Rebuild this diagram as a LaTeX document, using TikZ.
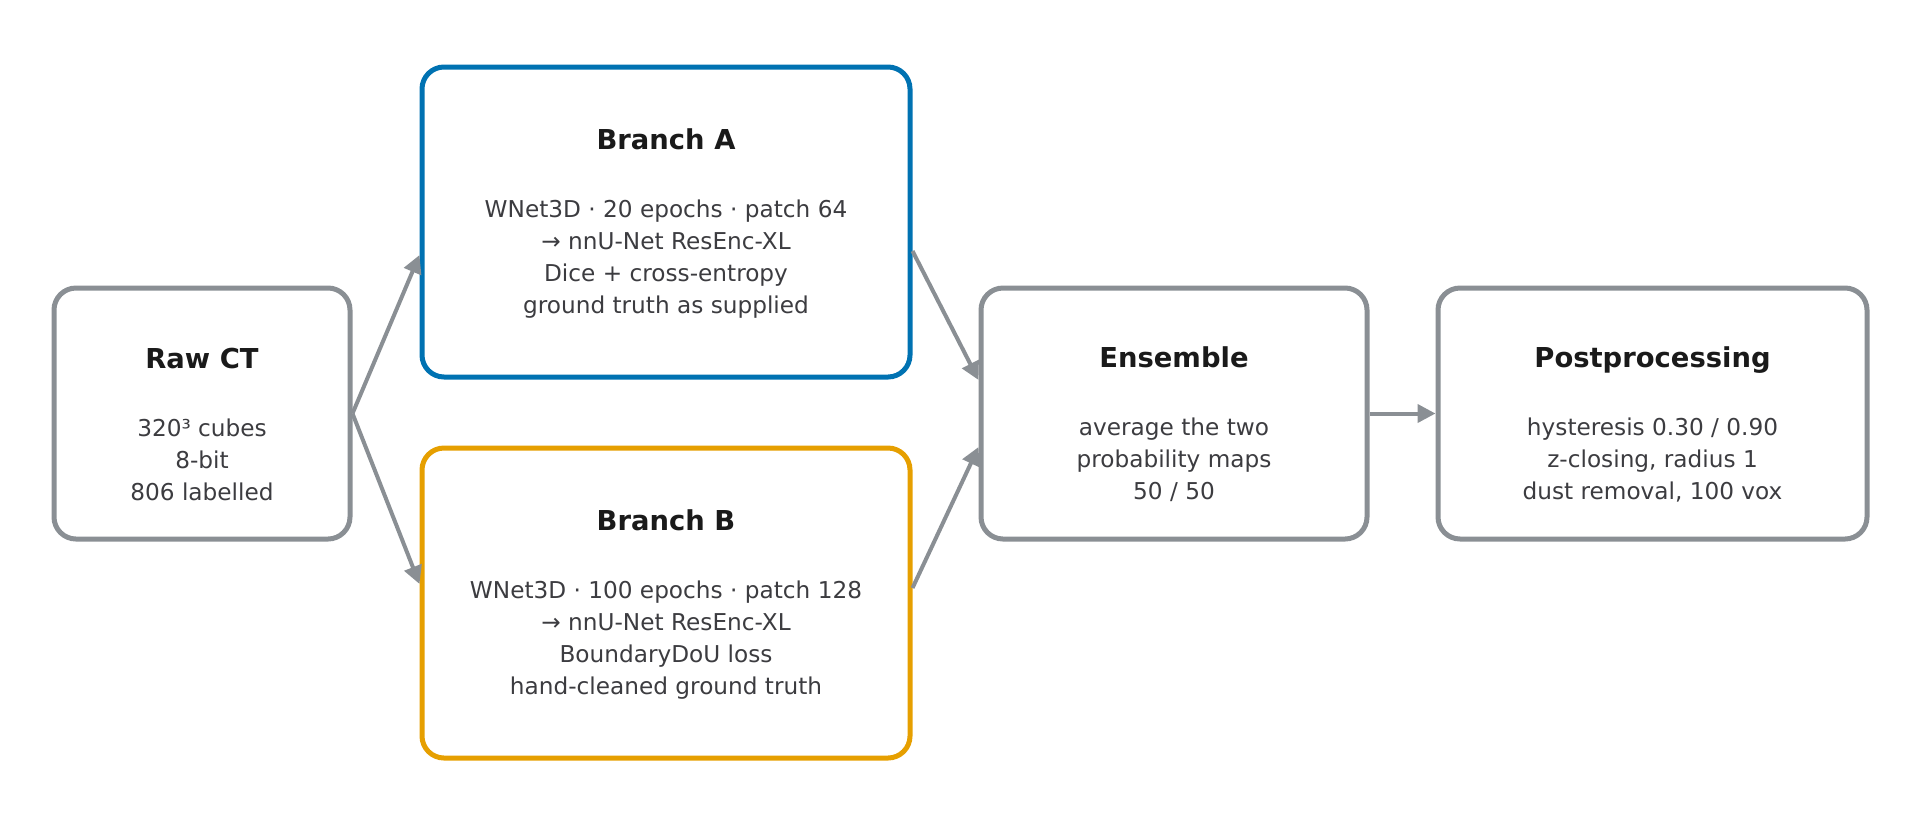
\documentclass[tikz,border=0pt]{standalone}
\usepackage{fontspec}
\setmainfont{DejaVu Sans}
\usetikzlibrary{arrows.meta}
\definecolor{gr}{HTML}{8A8F94}
\definecolor{bl}{HTML}{0072B2}
\definecolor{og}{HTML}{E69F00}
\definecolor{tt}{HTML}{1A1A1A}
\definecolor{bd}{HTML}{3C3C40}
\begin{document}
\begin{tikzpicture}[x=0.5pt,y=-0.5pt,
 box/.style={draw=gr,line width=2.5pt,rounded corners=11pt,fill=white},
 txt/.style={align=center,font=\fontsize{11.6pt}{16pt}\selectfont,text=bd,yshift=-5.5pt},
 arr/.style={draw=gr,line width=2pt,-{Triangle[length=9pt,width=9pt]}}]
\useasboundingbox (0,0) rectangle (1920,826);
\newcommand{\ttl}[1]{{\fontsize{13.7pt}{16pt}\selectfont\bfseries\color{tt}#1}\\[18pt]}
\node[box,minimum width=148pt,minimum height=125.5pt] (raw) at (202,413.5) {};
\node[txt] (rawt) at (raw.center) {\ttl{Raw CT}320³ cubes\\8-bit\\806 labelled};
\node[box,draw=bl,minimum width=244pt,minimum height=155pt] (a) at (666,222) {};
\node[txt,yshift=5pt] (at) at (a.center) {\ttl{Branch A}WNet3D · 20 epochs · patch 64\\→ nnU-Net ResEnc-XL\\Dice + cross-entropy\\ground truth as supplied};
\node[box,draw=og,minimum width=244pt,minimum height=155pt] (b) at (666,603) {};
\node[txt,yshift=5pt] (bt) at (b.center) {\ttl{Branch B}WNet3D · 100 epochs · patch 128\\→ nnU-Net ResEnc-XL\\BoundaryDoU loss\\hand-cleaned ground truth};
\node[box,minimum width=193pt,minimum height=125.5pt] (e) at (1174,413.5) {};
\node[txt] (et) at (e.center) {\ttl{Ensemble}average the two\\probability maps\\50 / 50};
\node[box,minimum width=214.5pt,minimum height=125.5pt] (p) at (1652.5,413.5) {};
\node[txt] (pt) at (p.center) {\ttl{Postprocessing}hysteresis 0.30 / 0.90\\z-closing, radius 1\\dust removal, 100 vox};
\draw[arr] (raw.east) -- ([yshift=-16.5pt]a.west);
\draw[arr] (raw.east) -- ([yshift=9.5pt]b.west);
\draw[arr] ([yshift=-14.5pt]a.east) -- ([yshift=16.75pt]e.west);
\draw[arr] ([yshift=7.5pt]b.east) -- ([yshift=-16.75pt]e.west);
\draw[arr] (e.east) -- (p.west);
\end{tikzpicture}
\end{document}
